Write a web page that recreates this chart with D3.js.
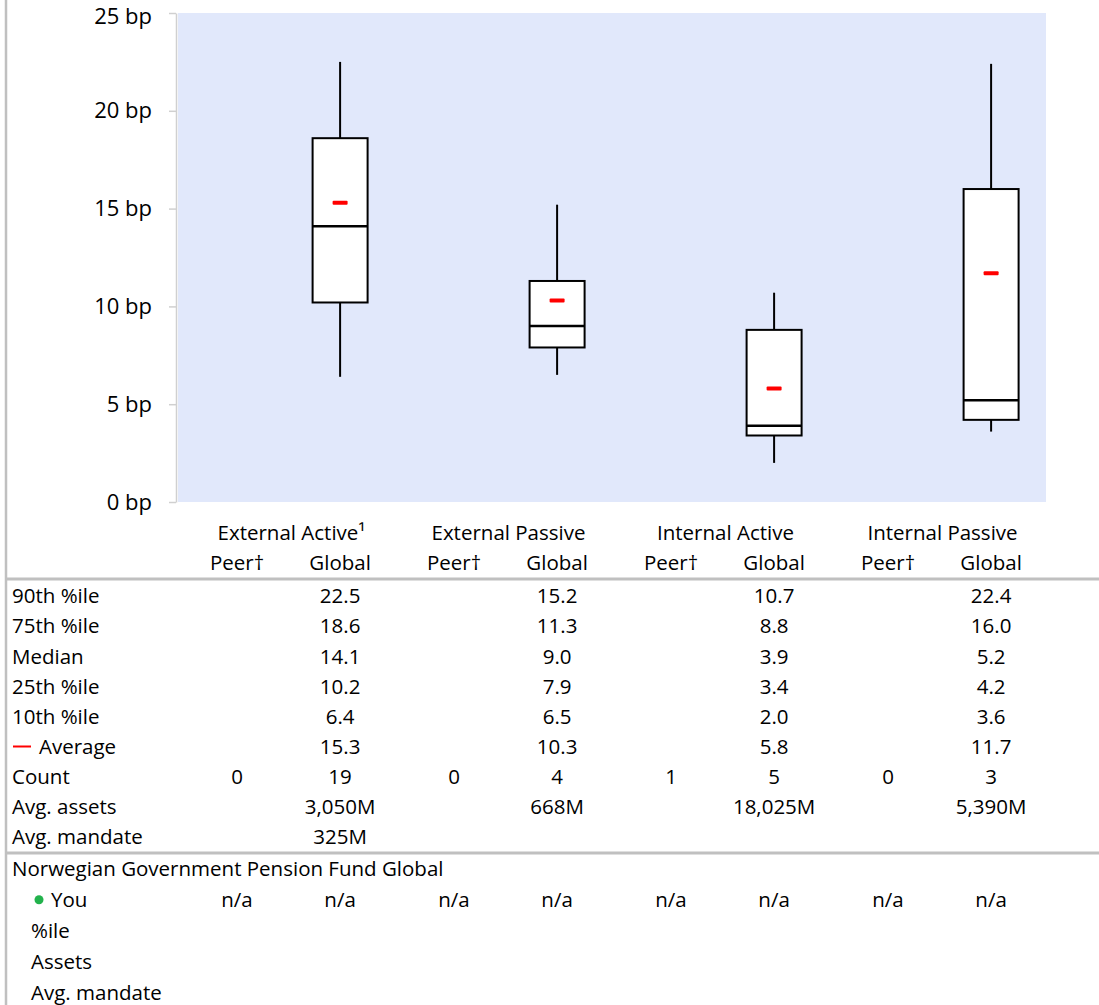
<!DOCTYPE html>
<html>
<head>
<meta charset="utf-8">
<script src="https://cdn.jsdelivr.net/npm/d3@7"></script>
<style>
  html, body { margin: 0; padding: 0; background: #ffffff; }
  svg { display: block; font-family: "Open Sans", "Noto Sans", sans-serif; }
</style>
</head>
<body>
<svg id="chart" width="1099" height="1005"></svg>
<script>
// ---------- data ----------
const categories = ["External Active¹", "External Passive", "Internal Active", "Internal Passive"];
const p90 = [22.5, 15.2, 10.7, 22.4];
const p75 = [18.6, 11.3, 8.8, 16.0];
const median = [14.1, 9.0, 3.9, 5.2];
const p25 = [10.2, 7.9, 3.4, 4.2];
const p10 = [6.4, 6.5, 2.0, 3.6];
const average = [15.3, 10.3, 5.8, 11.7];
const peerCount = [0, 0, 1, 0];
const globalCount = [19, 4, 5, 3];
const avgAssets = ["3,050M", "668M", "18,025M", "5,390M"];
const avgMandate = ["325M", "", "", ""];
const youPeer = ["n/a", "n/a", "n/a", "n/a"];
const youGlobal = ["n/a", "n/a", "n/a", "n/a"];
const yTicks = [0, 5, 10, 15, 20, 25];
const fundName = "Norwegian Government Pension Fund Global";

// ---------- layout ----------
const svg = d3.select("#chart");
const plotLeft = 178, plotRight = 1046, plotTop = 13, plotBottom = 502;
const x = d3.scaleBand().domain(categories).range([plotLeft, plotRight]);
const y = d3.scaleLinear().domain([0, 25]).range([plotBottom, plotTop]);
const bw = x.bandwidth();
const globalX = c => x(c) + bw * 0.747;
const peerX = c => x(c) + bw * 0.272;
const headX = c => x(c) + bw / 2 + 5;
const boxW = 55;
const gray = "#c0c0c0";
const tableFont = 20.5;

// plot background
svg.append("rect").attr("x", plotLeft).attr("y", plotTop)
  .attr("width", plotRight - plotLeft).attr("height", plotBottom - plotTop)
  .attr("fill", "#e1e8fb");

// left border
svg.append("line").attr("x1", 6).attr("x2", 6).attr("y1", 0).attr("y2", 1005)
  .attr("stroke", gray).attr("stroke-width", 2.5);

// y axis
const yAxis = svg.append("g").attr("transform", "translate(176,0)")
  .call(d3.axisLeft(y).tickValues(yTicks).tickFormat(d => d + " bp").tickSize(7).tickSizeOuter(0).tickPadding(17));
yAxis.select(".domain").attr("stroke", "#d0d0d0").attr("stroke-width", 1.5);
yAxis.selectAll(".tick line").attr("stroke", "#d0d0d0").attr("stroke-width", 1.5);
yAxis.selectAll(".tick text").attr("font-size", 22).attr("fill", "#000")
  .attr("font-family", "'Open Sans', sans-serif");
// keep the top label inside the page
yAxis.selectAll(".tick text").filter(d => d === 25).attr("y", 3.5);

// boxes
const idx = categories.map((c, i) => i);
const g = svg.append("g");
idx.forEach(i => {
  const c = categories[i];
  const cx = globalX(c);
  g.append("line").attr("x1", cx).attr("x2", cx).attr("y1", y(p90[i])).attr("y2", y(p75[i]))
    .attr("stroke", "#000").attr("stroke-width", 2);
  g.append("line").attr("x1", cx).attr("x2", cx).attr("y1", y(p25[i])).attr("y2", y(p10[i]))
    .attr("stroke", "#000").attr("stroke-width", 2);
  g.append("rect").attr("x", cx - boxW / 2).attr("y", y(p75[i]))
    .attr("width", boxW).attr("height", y(p25[i]) - y(p75[i]))
    .attr("fill", "#fff").attr("stroke", "#000").attr("stroke-width", 2);
  g.append("line").attr("x1", cx - boxW / 2).attr("x2", cx + boxW / 2)
    .attr("y1", y(median[i])).attr("y2", y(median[i]))
    .attr("stroke", "#000").attr("stroke-width", 2.5);
  g.append("rect").attr("x", cx - 7.5).attr("y", y(average[i]) - 2)
    .attr("width", 15).attr("height", 4).attr("rx", 1)
    .attr("fill", "#ff0000");
});

// table
const t = svg.append("g").attr("font-size", tableFont).attr("fill", "#000");
const headY = [533, 563];
const rowY = r => 596 + r * 30.1;
function txt(xp, yp, s, anchor) {
  t.append("text").attr("x", xp).attr("y", yp).attr("dy", "0.36em")
    .attr("text-anchor", anchor || "middle").text(s);
}
categories.forEach(c => {
  txt(headX(c), headY[0], c);
  txt(peerX(c), headY[1], "Peer†");
  txt(globalX(c), headY[1], "Global");
});
svg.append("line").attr("x1", 6).attr("x2", 1099).attr("y1", 579).attr("y2", 579)
  .attr("stroke", gray).attr("stroke-width", 3);
svg.append("line").attr("x1", 6).attr("x2", 1099).attr("y1", 853).attr("y2", 853)
  .attr("stroke", gray).attr("stroke-width", 3);

const rowLabels = ["90th %ile", "75th %ile", "Median", "25th %ile", "10th %ile", "Average", "Count", "Avg. assets", "Avg. mandate"];
rowLabels.forEach((lab, r) => {
  const yy = rowY(r);
  if (lab === "Average") {
    svg.append("line").attr("x1", 13).attr("x2", 31).attr("y1", yy).attr("y2", yy)
      .attr("stroke", "#ff0000").attr("stroke-width", 2);
    txt(39, yy, lab, "start");
  } else {
    txt(12, yy, lab, "start");
  }
});
const fmt = d3.format(".1f");
const statRows = [p90, p75, median, p25, p10, average];
statRows.forEach((arr, r) => {
  categories.forEach((c, i) => txt(globalX(c), rowY(r), fmt(arr[i])));
});
categories.forEach((c, i) => {
  txt(peerX(c), rowY(6), peerCount[i]);
  txt(globalX(c), rowY(6), globalCount[i]);
  txt(globalX(c), rowY(7), avgAssets[i]);
  if (avgMandate[i]) txt(globalX(c), rowY(8), avgMandate[i]);
});

// fund section
const fy0 = 869;
txt(12, fy0, fundName, "start");
const fRow = r => fy0 + r * 30.8;
svg.append("circle").attr("cx", 39).attr("cy", fRow(1)).attr("r", 4.5).attr("fill", "#22b24c");
txt(51, fRow(1), "You", "start");
txt(31, fRow(2), "%ile", "start");
txt(31, fRow(3), "Assets", "start");
txt(31, fRow(4), "Avg. mandate", "start");
categories.forEach((c, i) => {
  txt(peerX(c), fRow(1), youPeer[i]);
  txt(globalX(c), fRow(1), youGlobal[i]);
});
</script>
</body>
</html>
